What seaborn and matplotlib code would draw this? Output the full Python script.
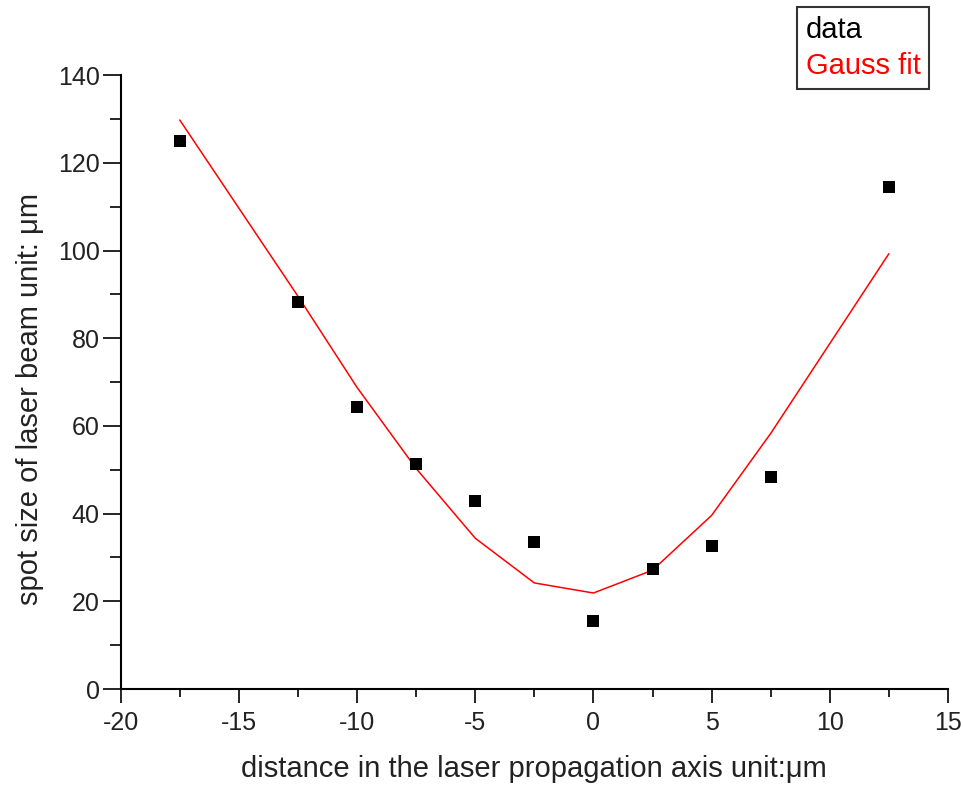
import matplotlib
matplotlib.use("Agg")
import matplotlib.pyplot as plt
import seaborn as sns
import pandas as pd
from matplotlib.ticker import MultipleLocator

# data
x_data = [-17.5, -12.5, -10, -7.5, -5, -2.5, 0, 2.5, 5, 7.5, 12.5]
y_data = [125.1, 88.2, 64.3, 51.4, 42.9, 33.6, 15.5, 27.3, 32.6, 48.4, 114.6]
x_fit = [-17.5, -12.5, -10, -7.5, -5, -2.5, 0, 2.5, 5, 7.5, 12.5]
y_fit = [129.8, 89.6, 68.8, 50.3, 34.4, 24.2, 21.9, 27.1, 39.6, 58.3, 99.3]
legend_labels = ["data", "Gauss fit"]
xlabel = "distance in the laser propagation axis unit:\u03bcm"
ylabel = "spot size of laser beam unit: \u03bcm"

sns.set_style("ticks")
plt.rcParams['font.family'] = ['Liberation Sans', 'DejaVu Sans']
plt.rcParams['axes.unicode_minus'] = False

df_data = pd.DataFrame({"x": x_data, "y": y_data})
df_fit = pd.DataFrame({"x": x_fit, "y": y_fit})

fig = plt.figure(figsize=(9.63, 7.86), dpi=100)
ax = fig.add_axes([0.1253, 0.1234, 0.9844 - 0.1253, 0.9042 - 0.1234])

sns.lineplot(data=df_fit, x="x", y="y", ax=ax, color="#ff0000", linewidth=1.1,
             sort=False, label=legend_labels[1], legend=False)
sns.scatterplot(data=df_data, x="x", y="y", ax=ax, marker="s", s=64, color="black",
                edgecolor="black", linewidth=0, label=legend_labels[0], legend=False, zorder=3)

ax.set_xlim(-20, 15)
ax.set_ylim(0, 140)
ax.xaxis.set_major_locator(MultipleLocator(5))
ax.xaxis.set_minor_locator(MultipleLocator(2.5))
ax.yaxis.set_major_locator(MultipleLocator(20))
ax.yaxis.set_minor_locator(MultipleLocator(10))
ax.tick_params(axis='x', which='major', direction='out', length=10, width=1.2,
               labelsize=18, colors='black', labelcolor='#222222', pad=6)
ax.tick_params(axis='y', which='major', direction='out', length=13, width=1.2,
               labelsize=18, colors='black', labelcolor='#222222', pad=2)
ax.tick_params(axis='x', which='minor', direction='out', length=6, width=1.2, colors='black')
ax.tick_params(axis='y', which='minor', direction='out', length=8, width=1.2, colors='black')
sns.despine(ax=ax)
for sp in ["left", "bottom"]:
    ax.spines[sp].set_linewidth(1.5)
    ax.spines[sp].set_color("black")

ax.set_xlabel(xlabel, fontsize=21, color='#222222', labelpad=14)
ax.set_ylabel(ylabel, fontsize=21, color='#222222')
ax.yaxis.set_label_coords(-0.093, 0.472)

handles = [plt.Line2D([], [], linestyle='none'), plt.Line2D([], [], linestyle='none')]
leg = fig.legend(handles, legend_labels, loc='upper left',
                 bbox_to_anchor=(797 / 963, 1 - 7 / 786), bbox_transform=fig.transFigure,
                 handlelength=0, handletextpad=0, fontsize=21, frameon=True,
                 fancybox=False, borderpad=0.3, labelspacing=0.3, borderaxespad=0)
leg.get_frame().set_edgecolor('black')
leg.get_frame().set_linewidth(1.5)
for t, c in zip(leg.get_texts(), ['black', '#ff0000']):
    t.set_color(c)

fig.savefig("out.png", dpi=100)
